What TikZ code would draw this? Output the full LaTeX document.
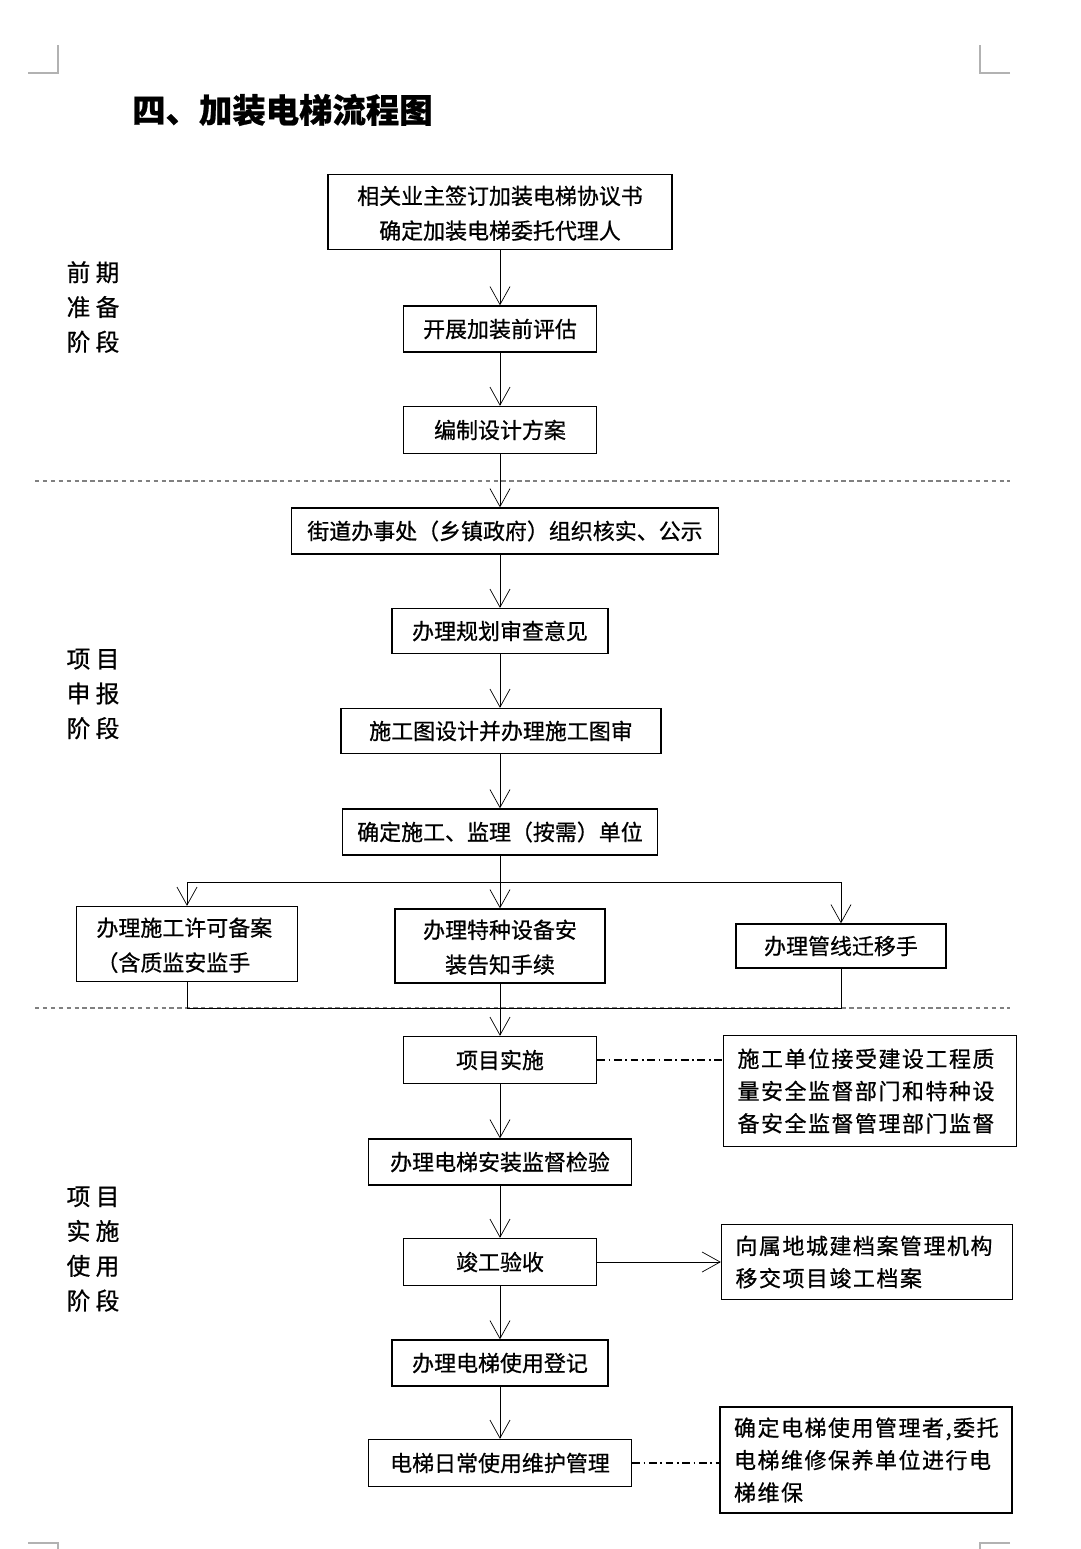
\documentclass[tikz,border=0pt]{standalone}
\usepackage{fontspec}
\setmainfont{Noto Sans CJK SC}[FakeBold=0.7]
\usepackage{tikz}
\usetikzlibrary{arrows.meta,positioning}

\begin{document}
\begin{tikzpicture}[x=0.02cm, y=-0.02cm, >={Straight Barb[length=3.6mm,width=4mm]},
    proc/.style={draw, line width=0.8pt, inner sep=0pt, align=center, font=\fontsize{12.5}{19.8}\selectfont},
    note/.style={draw, line width=0.8pt, inner xsep=0.28cm, text width=5.3cm, align=left,
      font=\fontsize{12.5}{18.4}\selectfont\addfontfeatures{LetterSpace=7}},
    stage/.style={align=left, font=\fontsize{13.5}{19.8}\selectfont},
    sep/.style={gray, line width=0.6pt, dash pattern=on 2.5pt off 2pt},
    link/.style={line width=0.7pt, dash pattern=on 4.5pt off 2pt on 1pt off 2pt},
    crop/.style={gray!60, line width=0.8pt}]
  \useasboundingbox (0,0) rectangle (1080,1549);
  % page corners
  \draw[crop] (28,73) -- (58,73) -- (58,45);
  \draw[crop] (1010,73) -- (980,73) -- (980,45);
  \draw[crop] (28,1543) -- (58,1543) -- (58,1549);
  \draw[crop] (1010,1543) -- (980,1543) -- (980,1549);

  \node[anchor=west, font=\fontsize{19}{22}\selectfont\bfseries] (title) at (126,110) {四、加装电梯流程图};

  % stages
  \node[stage] (s1) at (93,307) {前 期\\准 备\\阶 段};
  \node[stage] (s2) at (93,694) {项 目\\申 报\\阶 段};
  \node[stage] (s3) at (93,1249) {项 目\\实 施\\使 用\\阶 段};
  \draw[sep] (35,481) -- (1010,481);
  \draw[sep] (35,1008) -- (1010,1008);

  % main column
  \node[proc, minimum width=6.88cm, minimum height=1.5cm] (sign) at (500,212) {\rule{0pt}{12pt}相关业主签订加装电梯协议书\\确定加装电梯委托代理人};
  \node[proc, minimum width=3.86cm, minimum height=0.92cm] (eval) at (500,329) {开展加装前评估};
  \node[proc, minimum width=3.86cm, minimum height=0.94cm] (plan) at (500,430) {编制设计方案};
  \node[proc, minimum width=8.54cm, minimum height=0.92cm] (check) at (505,531) {街道办事处（乡镇政府）组织核实、公示};
  \node[proc, minimum width=4.32cm, minimum height=0.9cm] (review) at (500,631) {办理规划审查意见};
  \node[proc, minimum width=6.4cm, minimum height=0.9cm] (drawing) at (501,731) {施工图设计并办理施工图审};
  \node[proc, minimum width=6.3cm, minimum height=0.92cm] (units) at (500,832) {确定施工、监理（按需）单位};
  \node[proc, minimum width=4.42cm, minimum height=1.5cm, text width=3.62cm, align=left] (permit) at (187,944) {\rule{0pt}{12pt}办理施工许可备案\\（含质监安监手};
  \node[proc, minimum width=4.2cm, minimum height=1.48cm] (notify) at (500,946) {\rule{0pt}{12pt}办理特种设备安\\装告知手续};
  \node[proc, minimum width=4.2cm, minimum height=0.88cm] (pipes) at (841,946) {办理管线迁移手};
  \node[proc, minimum width=3.86cm, minimum height=0.94cm] (build) at (500,1060) {项目实施};
  \node[proc, minimum width=5.26cm, minimum height=0.92cm] (inspect) at (500,1162) {办理电梯安装监督检验};
  \node[proc, minimum width=3.86cm, minimum height=0.94cm] (accept) at (500,1262) {竣工验收};
  \node[proc, minimum width=4.32cm, minimum height=0.92cm] (register) at (500,1363) {办理电梯使用登记};
  \node[proc, minimum width=5.26cm, minimum height=0.94cm] (maintain) at (500,1463) {电梯日常使用维护管理};

  % side notes
  \node[note, minimum height=2.22cm] (n1) at (870,1091) {施工单位接受建设工程质\\量安全监督部门和特种设\\备安全监督管理部门监督};
  \node[note, minimum height=1.5cm, text width=5.26cm] (n2) at (867,1262) {向属地城建档案管理机构\\移交项目竣工档案};
  \node[note, minimum height=2.12cm, text width=5.28cm] (n3) at (866,1460) {\mbox{确定电梯使用管理者,委托}\\电梯维修保养单位进行电\\梯维保};

  \draw[->] (sign) -- (eval);
  \draw[->] (eval) -- (plan);
  \draw[->] (plan.south) -- (plan.south |- check.north);
  \draw[->] (plan.south |- check.south) -- (review);
  \draw[->] (review) -- (drawing.north -| review.south);
  \draw[->] (review.south |- drawing.south) -- (units);

  \coordinate (split) at (500,882);
  \coordinate (merge) at (500,1008);
  \draw (units) -- (split);
  \draw[->] (split) -| (permit);
  \draw[->] (split) -- (notify);
  \draw[->] (split) -| (pipes);
  \draw (permit) |- (merge);
  \draw (pipes) |- (merge);
  \draw[->] (notify) -- (build);

  \draw[->] (build) -- (inspect);
  \draw[->] (inspect) -- (accept);
  \draw[->] (accept) -- (register);
  \draw[->] (register) -- (maintain);

  \draw[link] (build.east) -- (build.east -| n1.west);
  \draw[->] (accept) -- (n2);
  \draw[link] (maintain.east) -- (maintain.east -| n3.west);
\end{tikzpicture}
\end{document}
